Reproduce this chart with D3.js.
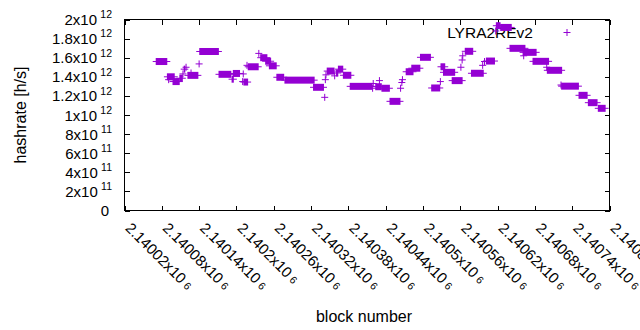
<!DOCTYPE html>
<html>
<head>
<meta charset="utf-8">
<script src="https://cdn.jsdelivr.net/npm/d3@7/dist/d3.min.js"></script>
<style>
    body { margin: 0; background: #fff; }
    svg text { font-family: "Liberation Sans", Arial, sans-serif; fill: #000; }
</style>
</head>
<body>
<svg id="chart" width="640" height="330"></svg>
<script>
// runs of consecutive blocks that share one hashrate value (h/s)
let runStart = [2140071, 2140089, 2140091, 2140098, 2140109, 2140114, 2140116, 2140119, 2140122, 2140127,
    2140140, 2140141, 2140172, 2140193, 2140195, 2140210, 2140211, 2140212, 2140217, 2140219,
    2140236, 2140239, 2140247, 2140253, 2140265, 2140278, 2140324, 2140342, 2140343, 2140344,
    2140346, 2140358, 2140361, 2140364, 2140372, 2140383, 2140419, 2140420, 2140424, 2140430,
    2140434, 2140447, 2140464, 2140466, 2140467, 2140473, 2140482, 2140496, 2140514, 2140528,
    2140529, 2140533, 2140547, 2140561, 2140563, 2140564, 2140568, 2140578, 2140596, 2140599,
    2140602, 2140617, 2140618, 2140625, 2140640, 2140661, 2140662, 2140677, 2140699, 2140700,
    2140722, 2140723, 2140751, 2140766, 2140782];
let runEnd = [2140088, 2140100, 2140091, 2140108, 2140113, 2140114, 2140117, 2140119, 2140138, 2140127,
    2140140, 2140171, 2140191, 2140195, 2140205, 2140210, 2140211, 2140218, 2140217, 2140235,
    2140236, 2140249, 2140255, 2140264, 2140276, 2140325, 2140340, 2140342, 2140343, 2140344,
    2140357, 2140358, 2140363, 2140371, 2140384, 2140418, 2140419, 2140420, 2140433, 2140430,
    2140446, 2140463, 2140464, 2140466, 2140467, 2140484, 2140495, 2140512, 2140527, 2140528,
    2140535, 2140551, 2140563, 2140561, 2140563, 2140564, 2140580, 2140597, 2140596, 2140599,
    2140615, 2140617, 2140624, 2140642, 2140664, 2140682, 2140662, 2140702, 2140699, 2140723,
    2140722, 2140750, 2140764, 2140780, 2140793];
let runValue = [1.56e12, 1.40e12, 1.37e12, 1.35e12, 1.385e12, 1.43e12, 1.48e12, 1.50e12, 1.415e12, 1.44e12,
    1.535e12, 1.665e12, 1.426e12, 1.375e12, 1.435e12, 1.35e12, 1.43e12, 1.345e12, 1.52e12, 1.505e12,
    1.645e12, 1.60e12, 1.563e12, 1.515e12, 1.395e12, 1.365e12, 1.29e12, 1.185e12, 1.37e12, 1.42e12,
    1.46e12, 1.41e12, 1.44e12, 1.48e12, 1.416e12, 1.30e12, 1.28e12, 1.33e12, 1.296e12, 1.36e12,
    1.28e12, 1.143e12, 1.28e12, 1.34e12, 1.37e12, 1.453e12, 1.49e12, 1.604e12, 1.283e12, 1.35e12,
    1.505e12, 1.447e12, 1.36e12, 1.50e12, 1.576e12, 1.62e12, 1.667e12, 1.437e12, 1.52e12, 1.56e12,
    1.565e12, 1.88e12, 1.935e12, 1.917e12, 1.698e12, 1.656e12, 1.62e12, 1.562e12, 1.50e12, 1.468e12,
    1.314e12, 1.302e12, 1.206e12, 1.129e12, 1.07e12];

let seriesName = "LYRA2REv2";

let yTicks = [0, 2e11, 4e11, 6e11, 8e11, 1e12, 1.2e12, 1.4e12, 1.6e12, 1.8e12, 2e12];
let yTickBase = ["0", "2x10", "4x10", "6x10", "8x10", "1x10", "1.2x10", "1.4x10", "1.6x10", "1.8x10", "2x10"];
let yTickExp = ["", "11", "11", "11", "11", "12", "12", "12", "12", "12", "12"];

let xTicks = [2140020, 2140080, 2140140, 2140200, 2140260, 2140320, 2140380,
    2140440, 2140500, 2140560, 2140620, 2140680, 2140740, 2140800];
let xTickBase = ["2.14002x10", "2.14008x10", "2.14014x10", "2.1402x10", "2.14026x10", "2.14032x10", "2.14038x10",
    "2.14044x10", "2.1405x10", "2.14056x10", "2.14062x10", "2.14068x10", "2.14074x10", "2.1408x10"];
let xTickExp = ["6", "6", "6", "6", "6", "6", "6", "6", "6", "6", "6", "6", "6", "6"];

let purple = "#9400d3";
let fontSize = 15;
let supSize = 10.5;

let svg = d3.select("#chart");

let plotLeft = 124.5, plotRight = 609.5, plotTop = 19.5, plotBottom = 210.5;

let x = d3.scaleLinear().domain([2140020, 2140800]).range([plotLeft, plotRight]);
let y = d3.scaleLinear().domain([0, 2e12]).range([plotBottom, plotTop]);

// ticks point inward on all four sides, like gnuplot
svg.append("g")
    .attr("transform", "translate(0," + plotBottom + ")")
    .call(d3.axisBottom(x).tickValues(xTicks).tickSize(-5).tickSizeOuter(0).tickFormat(""));
svg.append("g")
    .attr("transform", "translate(0," + plotTop + ")")
    .call(d3.axisTop(x).tickValues(xTicks).tickSize(-5).tickSizeOuter(0).tickFormat(""));
svg.append("g")
    .attr("transform", "translate(" + plotLeft + ",0)")
    .call(d3.axisLeft(y).tickValues(yTicks).tickSize(-5).tickSizeOuter(0).tickFormat(""));
svg.append("g")
    .attr("transform", "translate(" + plotRight + ",0)")
    .call(d3.axisRight(y).tickValues(yTicks).tickSize(-5).tickSizeOuter(0).tickFormat(""));

svg.selectAll(".domain").remove();
svg.selectAll(".tick line").attr("stroke", "#000").attr("shape-rendering", "crispEdges");

svg.append("rect")
    .attr("x", plotLeft)
    .attr("y", plotTop)
    .attr("width", plotRight - plotLeft)
    .attr("height", plotBottom - plotTop)
    .attr("fill", "none")
    .attr("stroke", "#000")
    .attr("shape-rendering", "crispEdges");

// y tick labels
let yLab = svg.append("g").selectAll("text")
    .data(yTicks)
    .enter().append("text")
    .attr("x", function (d, i) { return yTickExp[i] ? 112 : 109; })
    .attr("y", function (d) { return y(d) + 5.5; })
    .attr("text-anchor", "end")
    .attr("font-size", fontSize);
yLab.append("tspan").text(function (d, i) { return yTickBase[i]; });
yLab.append("tspan")
    .attr("dx", 3.3)
    .attr("dy", -6.7)
    .attr("font-size", supSize)
    .text(function (d, i) { return yTickExp[i]; });

// x tick labels, rotated; the exponent sits almost on the baseline here
let xLab = svg.append("g").selectAll("text")
    .data(xTicks)
    .enter().append("text")
    .attr("transform", function (d) { return "translate(" + x(d) + ",229) rotate(45)"; })
    .attr("font-size", fontSize);
xLab.append("tspan").text(function (d, i) { return xTickBase[i]; });
xLab.append("tspan")
    .attr("dx", 3.3)
    .attr("dy", -0.5)
    .attr("font-size", supSize)
    .text(function (d, i) { return xTickExp[i]; });

svg.append("text")
    .attr("x", 364)
    .attr("y", 322)
    .attr("text-anchor", "middle")
    .attr("font-size", 16)
    .text("block number");

svg.append("text")
    .attr("transform", "translate(26,115) rotate(-90)")
    .attr("text-anchor", "middle")
    .attr("font-size", 16)
    .text("hashrate [h/s]");

// legend
svg.append("text")
    .attr("x", 533)
    .attr("y", 37.5)
    .attr("text-anchor", "end")
    .attr("font-size", 15.5)
    .text(seriesName);

function plusPath(x0, x1, cy) {
    // union of "+" markers from block x0 to block x1
    return "M" + (x0 - 3.5) + "," + cy + "H" + (x1 + 3.5);
}

svg.append("path")
    .attr("d", plusPath(567, 567, 32.5))
    .attr("stroke", purple)
    .attr("stroke-width", 1);
svg.append("rect")
    .attr("x", 566.5).attr("y", 29).attr("width", 1).attr("height", 7)
    .attr("fill", purple);

// data
let runs = runStart.map(function (s, i) {
    return {s: s, e: runEnd[i], v: runValue[i]};
});

let marks = svg.append("g").selectAll("g")
    .data(runs)
    .enter().append("g");

marks.append("rect")
    .attr("x", function (d) { return x(d.s) - 0.5; })
    .attr("y", function (d) { return y(d.v) - 3.5; })
    .attr("width", function (d) { return x(d.e) - x(d.s) + 1; })
    .attr("height", 7)
    .attr("fill", purple);

marks.append("path")
    .attr("d", function (d) { return plusPath(x(d.s), x(d.e), y(d.v)); })
    .attr("stroke", purple)
    .attr("stroke-width", 1)
    .attr("fill", "none");
</script>
</body>
</html>
